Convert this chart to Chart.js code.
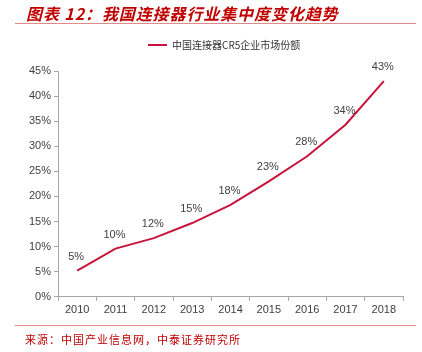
<!DOCTYPE html>
<html>
<head>
<meta charset="utf-8">
<script src="https://cdn.jsdelivr.net/npm/chart.js@4"></script>
<style>
  html, body { margin: 0; padding: 0; background: #fff; }
  #wrap { position: relative; width: 422px; height: 352px; overflow: hidden; }
  #c { position: absolute; left: 0; top: 0; }
  #title { position: absolute; left: 26px; top: 1px; font-family: "Noto Sans CJK SC", sans-serif; font-weight: bold; font-style: italic; font-size: 16px; color: #C00000; white-space: nowrap; letter-spacing: 0.9px; }
  .rule { position: absolute; left: 15px; width: 401px; height: 1px; background: #E08A8A; }
  #source { position: absolute; left: 25px; top: 331px; font-family: "Noto Sans CJK SC", sans-serif; font-size: 11px; color: #C00000; white-space: nowrap; letter-spacing: 1px; }
</style>
</head>
<body>
<div id="wrap">
  <canvas id="c" width="422" height="352"></canvas>
  <div id="title">图表 12：我国连接器行业集中度变化趋势</div>
  <div class="rule" style="top:23px"></div>
  <div class="rule" style="top:325px"></div>
  <div id="source">来源：中国产业信息网，中泰证券研究所</div>
</div>
<script>
const categories = ['2010','2011','2012','2013','2014','2015','2016','2017','2018'];
const seriesName = '中国连接器CR5企业市场份额';
const shareValues = [5.2, 9.6, 11.7, 14.7, 18.3, 23.0, 28.0, 34.3, 43.0];
const yTickMax = 45;
const yTickStep = 5;

const lineColor = '#C8143C';

const legendPlugin = {
  id: 'customLegend',
  afterDraw(chart) {
    const ctx = chart.ctx;
    ctx.save();
    ctx.strokeStyle = lineColor;
    ctx.lineWidth = 2;
    ctx.beginPath();
    ctx.moveTo(148, 45);
    ctx.lineTo(167, 45);
    ctx.stroke();
    ctx.fillStyle = '#333';
    ctx.font = '10px "Noto Sans CJK SC", sans-serif';
    ctx.textBaseline = 'middle';
    ctx.textAlign = 'left';
    ctx.fillText(seriesName, 172, 45);
    ctx.restore();
  }
};

const labelPlugin = {
  id: 'pointLabels',
  afterDatasetsDraw(chart) {
    const ctx = chart.ctx;
    const meta = chart.getDatasetMeta(0);
    ctx.save();
    ctx.fillStyle = '#404040';
    ctx.font = '11px "Liberation Sans", Arial, sans-serif';
    ctx.textAlign = 'center';
    ctx.textBaseline = 'middle';
    meta.data.forEach((pt, i) => {
      const v = chart.data.datasets[0].data[i];
      ctx.fillText(Math.round(v) + '%', pt.x - 1, pt.y - 14);
    });
    ctx.restore();
  }
};

new Chart(document.getElementById('c'), {
  type: 'line',
  data: {
    labels: categories,
    datasets: [{
      label: seriesName,
      data: shareValues,
      borderColor: lineColor,
      backgroundColor: lineColor,
      borderWidth: 2,
      pointRadius: 0,
      tension: 0,
      fill: false
    }]
  },
  options: {
    responsive: false,
    animation: false,
    devicePixelRatio: 1,
    layout: { padding: { left: 26, right: 19, top: 71, bottom: 32 } },
    plugins: {
      legend: { display: false },
      tooltip: { enabled: false },
      title: { display: false }
    },
    scales: {
      x: {
        offset: true,
        grid: { offset: true, drawOnChartArea: false, drawTicks: true, tickLength: 4, color: '#A6A6A6' },
        border: { color: '#A6A6A6', width: 1 },
        ticks: { color: '#404040', font: { family: '"Liberation Sans", Arial, sans-serif', size: 11 }, padding: 3, maxRotation: 0 }
      },
      y: {
        min: 0,
        max: yTickMax,
        grid: { drawOnChartArea: false, drawTicks: true, tickLength: 4, color: '#A6A6A6' },
        border: { color: '#A6A6A6', width: 1 },
        ticks: {
          stepSize: yTickStep,
          color: '#404040',
          font: { family: '"Liberation Sans", Arial, sans-serif', size: 11 },
          padding: 3,
          callback: v => v + '%'
        }
      }
    }
  },
  plugins: [legendPlugin, labelPlugin]
});
</script>
</body>
</html>
